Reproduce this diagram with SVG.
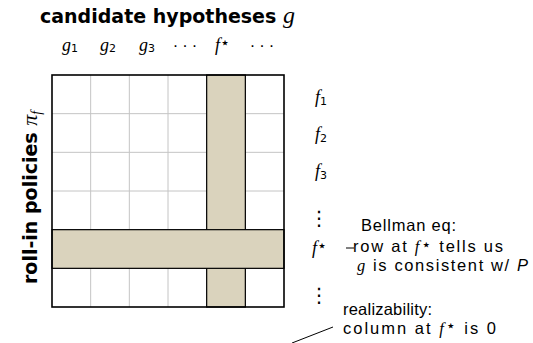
<svg xmlns="http://www.w3.org/2000/svg" width="533" height="343" viewBox="0 0 533 343">
<style>
.t{font-family:"Liberation Sans","DejaVu Sans",sans-serif;font-size:16.5px;fill:#000}
.b{font-family:"DejaVu Sans","Liberation Sans",sans-serif;font-weight:bold;font-size:19px;fill:#000}
.m{font-family:"Liberation Serif","DejaVu Serif",serif;font-style:italic}
.ms{font-family:"Liberation Sans",sans-serif;font-style:italic}
.lab{font-family:"Liberation Serif","DejaVu Serif",serif;font-style:italic;font-size:18px;fill:#000}
.sub{font-family:"DejaVu Sans","Liberation Sans",sans-serif;font-style:normal;font-size:11px}
.star{font-family:"DejaVu Sans",sans-serif;font-style:normal;font-size:16px}
.vd{font-family:"DejaVu Sans",sans-serif;font-size:20px;fill:#000}
.grid{stroke:#c4c4c4;stroke-width:1;fill:none}
.band{fill:#dad3bd;stroke:#000;stroke-width:1.2}
.line{stroke:#000;stroke-width:1;fill:none}
</style>
<rect width="533" height="343" fill="#fff"/>
<g id="title"><text class="b" x="40" y="23">candidate hypotheses <tspan class="m" font-weight="normal" font-size="24">g</tspan></text></g>
<g id="ylabel"><text class="b" font-size="20" transform="translate(37,284) rotate(-90)">roll-in policies <tspan class="m" font-weight="normal" font-size="22">π</tspan><tspan class="m" font-weight="normal" font-size="14" dy="4">f</tspan></text></g>
<g id="col-labels">
<text class="lab" x="62" y="51">g<tspan class="sub" dy="1">1</tspan></text>
<text class="lab" x="100" y="51">g<tspan class="sub" dy="1">2</tspan></text>
<text class="lab" x="139" y="51">g<tspan class="sub" dy="1">3</tspan></text>
<text class="t" x="187" y="51" text-anchor="middle" letter-spacing="4">···</text>
<text class="lab" x="215" y="51">f<tspan class="star" dy="-3">⋆</tspan></text>
<text class="t" x="264" y="51" text-anchor="middle" letter-spacing="4">···</text>
</g>
<g id="matrix">
<rect x="52" y="75" width="232" height="232" fill="#fff"/>
<path class="grid" d="M90.67 75V307M129.33 75V307M168 75V307M206.67 75V307M245.33 75V307M52 113.67H284M52 152.33H284M52 191H284M52 229.67H284M52 268.33H284"/>
<rect id="col-fstar" class="band" x="206.67" y="75" width="38.67" height="232"/>
<rect id="row-fstar" class="band" x="52" y="229.67" width="232" height="38.67"/>
<rect x="52" y="75" width="232" height="232" fill="none" stroke="#000" stroke-width="1.6"/>
</g>
<g id="row-labels">
<text class="lab" x="315" y="103">f<tspan class="sub" dy="2">1</tspan></text>
<text class="lab" x="315" y="140">f<tspan class="sub" dy="2">2</tspan></text>
<text class="lab" x="315" y="177">f<tspan class="sub" dy="2">3</tspan></text>
<text class="vd" x="319" y="225" text-anchor="middle">⋮</text>
<text class="lab" x="312" y="254">f<tspan class="star" dy="-3">⋆</tspan></text>
<text class="vd" x="319" y="302" text-anchor="middle">⋮</text>
</g>
<g id="connectors">
<line class="line" x1="346" y1="248" x2="354" y2="248"/>
<line class="line" x1="292" y1="343" x2="333" y2="327"/>
</g>
<g id="bellman">
<text class="t" x="361" y="231" textLength="95" lengthAdjust="spacing">Bellman eq:</text>
<text class="t" x="353" y="252" textLength="150" lengthAdjust="spacing">row at <tspan class="m">f</tspan><tspan class="star" dy="-2">⋆</tspan><tspan dy="2"> tells us</tspan></text>
<text class="t" x="357" y="271" textLength="171" lengthAdjust="spacing"><tspan class="m">g</tspan> is consistent w/  <tspan class="ms">P</tspan></text>
</g>
<g id="realizability">
<text class="t" x="343" y="315" textLength="89" lengthAdjust="spacing">realizability:</text>
<text class="t" x="343" y="334" textLength="153" lengthAdjust="spacing">column at <tspan class="m">f</tspan><tspan class="star" dy="-3">⋆</tspan><tspan dy="3"> is 0</tspan></text>
</g>
</svg>
